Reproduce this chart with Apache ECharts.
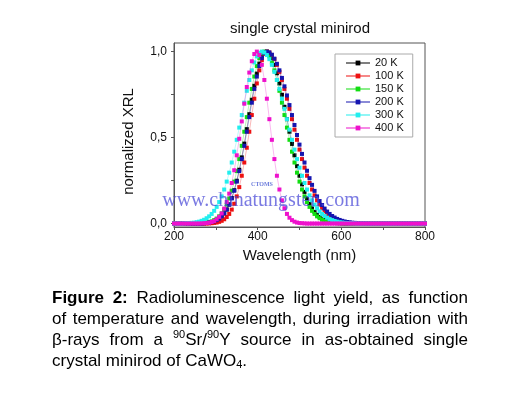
<!DOCTYPE html>
<html>
<head>
<meta charset="utf-8">
<script src="https://cdn.jsdelivr.net/npm/echarts@6/dist/echarts.min.js"></script>
<style>
  html, body { margin: 0; padding: 0; background: #fff; }
  #chart { width: 530px; height: 396px; }
</style>
</head>
<body>
<div id="chart"></div>
<script>
// wavelength grid (nm)
const wavelengths = [
  200, 206, 212, 218, 224, 230, 236, 242, 248, 254,
  260, 266, 272, 278, 284, 290, 296, 302, 308, 314,
  320, 326, 332, 338, 344, 350, 356, 362, 368, 374,
  380, 386, 392, 398, 404, 410, 416, 422, 428, 434,
  440, 446, 452, 458, 464, 470, 476, 482, 488, 494,
  500, 506, 512, 518, 524, 530, 536, 542, 548, 554,
  560, 566, 572, 578, 584, 590, 596, 602, 608, 614,
  620, 626, 632, 638, 644, 650, 656, 662, 668, 674,
  680, 686, 692, 698, 704, 710, 716, 722, 728, 734,
  740, 746, 752, 758, 764, 770, 776, 782, 788, 794,
  800
];

const temperatures = ['20 K', '100 K', '150 K', '200 K', '300 K', '400 K'];

// normalized XRL
const xrl20K = [
  0, 0, 0, 0, 0, 0, 0, 0, 0, 0,
  0.001, 0.001, 0.002, 0.003, 0.005, 0.008, 0.013, 0.019, 0.029, 0.041,
  0.059, 0.082, 0.111, 0.149, 0.194, 0.249, 0.313, 0.385, 0.465, 0.549,
  0.636, 0.720, 0.801, 0.872, 0.930, 0.972, 0.996, 1.000, 0.987, 0.962,
  0.923, 0.874, 0.815, 0.749, 0.679, 0.607, 0.534, 0.463, 0.397, 0.334,
  0.278, 0.228, 0.184, 0.146, 0.115, 0.089, 0.068, 0.051, 0.038, 0.028,
  0.020, 0.014, 0.010, 0.007, 0.005, 0.003, 0.002, 0.001, 0, 0,
  0, 0, 0, 0, 0, 0, 0, 0, 0, 0,
  0, 0, 0, 0, 0, 0, 0, 0, 0, 0,
  0, 0, 0, 0, 0, 0, 0, 0, 0, 0,
  0
];
const xrl100K = [
  0, 0, 0, 0, 0, 0, 0, 0, 0, 0,
  0, 0, 0, 0, 0.001, 0.002, 0.004, 0.006, 0.010, 0.016,
  0.025, 0.038, 0.056, 0.081, 0.115, 0.158, 0.212, 0.278, 0.355, 0.441,
  0.534, 0.631, 0.726, 0.815, 0.891, 0.950, 0.987, 1.000, 0.995, 0.980,
  0.956, 0.923, 0.882, 0.835, 0.783, 0.726, 0.667, 0.607, 0.546, 0.487,
  0.430, 0.375, 0.325, 0.278, 0.236, 0.198, 0.164, 0.135, 0.110, 0.089,
  0.071, 0.056, 0.044, 0.034, 0.026, 0.020, 0.015, 0.011, 0.008, 0.006,
  0.004, 0.003, 0.002, 0.002, 0.001, 0, 0, 0, 0, 0,
  0, 0, 0, 0, 0, 0, 0, 0, 0, 0,
  0, 0, 0, 0, 0, 0, 0, 0, 0, 0,
  0
];
const xrl150K = [
  0, 0, 0, 0, 0, 0, 0, 0, 0, 0,
  0.001, 0.002, 0.004, 0.006, 0.009, 0.013, 0.020, 0.029, 0.042, 0.059,
  0.081, 0.110, 0.146, 0.191, 0.244, 0.305, 0.375, 0.452, 0.534, 0.619,
  0.703, 0.783, 0.855, 0.916, 0.962, 0.990, 1.000, 0.993, 0.972, 0.937,
  0.891, 0.835, 0.772, 0.703, 0.631, 0.558, 0.487, 0.418, 0.355, 0.296,
  0.244, 0.198, 0.158, 0.125, 0.097, 0.074, 0.056, 0.042, 0.031, 0.022,
  0.016, 0.011, 0.008, 0.005, 0.004, 0.002, 0.002, 0.001, 0, 0,
  0, 0, 0, 0, 0, 0, 0, 0, 0, 0,
  0, 0, 0, 0, 0, 0, 0, 0, 0, 0,
  0, 0, 0, 0, 0, 0, 0, 0, 0, 0,
  0
];
const xrl200K = [
  0, 0, 0, 0, 0, 0, 0, 0, 0, 0,
  0, 0.001, 0.002, 0.004, 0.006, 0.009, 0.013, 0.020, 0.029, 0.042,
  0.059, 0.081, 0.110, 0.146, 0.191, 0.244, 0.305, 0.375, 0.452, 0.534,
  0.619, 0.703, 0.783, 0.855, 0.916, 0.962, 0.990, 1.000, 0.995, 0.982,
  0.959, 0.929, 0.891, 0.847, 0.798, 0.745, 0.689, 0.631, 0.573, 0.515,
  0.459, 0.405, 0.355, 0.307, 0.264, 0.225, 0.190, 0.158, 0.131, 0.108,
  0.087, 0.070, 0.056, 0.044, 0.035, 0.027, 0.021, 0.016, 0.012, 0.009,
  0.007, 0.005, 0.004, 0.003, 0.002, 0.001, 0.001, 0, 0, 0,
  0, 0, 0, 0, 0, 0, 0, 0, 0, 0,
  0, 0, 0, 0, 0, 0, 0, 0, 0, 0,
  0
];
const xrl300K = [
  0, 0, 0, 0, 0.001, 0.002, 0.002, 0.004, 0.005, 0.008,
  0.011, 0.016, 0.022, 0.031, 0.042, 0.056, 0.074, 0.097, 0.125, 0.158,
  0.198, 0.244, 0.296, 0.355, 0.418, 0.487, 0.558, 0.631, 0.703, 0.772,
  0.835, 0.891, 0.937, 0.972, 0.993, 1.000, 0.995, 0.980, 0.956, 0.923,
  0.882, 0.835, 0.783, 0.726, 0.667, 0.607, 0.546, 0.487, 0.430, 0.375,
  0.325, 0.278, 0.236, 0.198, 0.164, 0.135, 0.110, 0.089, 0.071, 0.056,
  0.044, 0.034, 0.026, 0.020, 0.015, 0.011, 0.008, 0.006, 0.004, 0.003,
  0.002, 0.002, 0.001, 0, 0, 0, 0, 0, 0, 0,
  0, 0, 0, 0, 0, 0, 0, 0, 0, 0,
  0, 0, 0, 0, 0, 0, 0, 0, 0, 0,
  0
];
const xrl400K = [
  0, 0, 0, 0, 0, 0, 0, 0, 0, 0,
  0, 0.001, 0.002, 0.003, 0.005, 0.009, 0.015, 0.025, 0.039, 0.059,
  0.087, 0.125, 0.174, 0.236, 0.310, 0.397, 0.493, 0.594, 0.697, 0.794,
  0.878, 0.944, 0.986, 1.000, 0.980, 0.923, 0.835, 0.726, 0.607, 0.487,
  0.375, 0.278, 0.198, 0.135, 0.089, 0.056, 0.034, 0.020, 0.011, 0.006,
  0.003, 0.002, 0.001, 0, 0, 0, 0, 0, 0, 0,
  0, 0, 0, 0, 0, 0, 0, 0, 0, 0,
  0, 0, 0, 0, 0, 0, 0, 0, 0, 0,
  0, 0, 0, 0, 0, 0, 0, 0, 0, 0,
  0, 0, 0, 0, 0, 0, 0, 0, 0, 0,
  0
];

const xTicks = [200, 400, 600, 800];
const yTicks = [0, 0.5, 1.0];
const yMinorTicks = [0, 0.25, 0.5, 0.75, 1.0];

const allSeries = [xrl20K, xrl100K, xrl150K, xrl200K, xrl300K, xrl400K];
const colors = ['#000000', '#ee1111', '#11dd11', '#1515b0', '#22eeee', '#ee11cc'];

// caption: words, pieces may be bold / sup / sub
const captionLines = [
  [[['Figure', 'bold']], [['2:', 'bold']], 'Radioluminescence', 'light', 'yield,', 'as', 'function'],
  ['of', 'temperature', 'and', 'wavelength,', 'during', 'irradiation', 'with'],
  ['β-rays', 'from', 'a', [['90', 'sup'], 'Sr/', ['90', 'sup'], 'Y'], 'source', 'in', 'as-obtained', 'single'],
  ['crystal', 'minirod', 'of', ['CaWO', ['4', 'sub'], '.']]
];

const capFamily = '"Liberation Sans", Arial, sans-serif';
const capSize = 17;
const capLeft = 52, capRight = 468, capTop = 298, capLineHeight = 21;

function fontFor(kind) {
  const size = (kind === 'sup' || kind === 'sub') ? 11 : capSize;
  return (kind === 'bold' ? 'bold ' : '') + size + 'px ' + capFamily;
}
function toPieces(word) {
  return (typeof word === 'string' ? [word] : word)
    .map(p => typeof p === 'string' ? [p, 'normal'] : p);
}

const measure = document.createElement('canvas').getContext('2d');
const captionGraphics = [];
captionLines.forEach((line, li) => {
  const words = line.map(toPieces);
  const widths = words.map(ps => ps.reduce((s, p) => {
    measure.font = fontFor(p[1]);
    return s + measure.measureText(p[0]).width;
  }, 0));
  const total = widths.reduce((a, b) => a + b, 0);
  measure.font = fontFor('normal');
  const isLast = li === captionLines.length - 1;
  const gap = isLast ? measure.measureText(' ').width : (capRight - capLeft - total) / (words.length - 1);
  const y = capTop + li * capLineHeight;
  let x = capLeft;
  words.forEach(ps => {
    ps.forEach(p => {
      const kind = p[1];
      const dy = kind === 'sup' ? -5 : kind === 'sub' ? 4 : 0;
      captionGraphics.push({
        type: 'text', x: x, y: y + dy,
        style: { text: p[0], font: fontFor(kind), fill: '#000', verticalAlign: 'middle' }
      });
      measure.font = fontFor(kind);
      x += measure.measureText(p[0]).width;
    });
    x += gap;
  });
});

const chart = echarts.init(document.getElementById('chart'));

const option = {
  animation: false,
  backgroundColor: '#fff',
  textStyle: { fontFamily: capFamily },
  title: {
    text: 'single crystal minirod',
    left: 230,
    top: 21,
    padding: 0,
    textStyle: { fontSize: 15, fontWeight: 'normal', color: '#111' }
  },
  legend: {
    orient: 'vertical',
    left: 335,
    top: 54,
    padding: [3, 9, 3, 10],
    itemWidth: 24,
    itemHeight: 6,
    itemGap: 1,
    borderColor: '#aaa',
    borderWidth: 1,
    textStyle: { fontSize: 11, color: '#111', lineHeight: 12 },
    data: temperatures
  },
  grid: {
    left: 174,
    right: 105,
    top: 43,
    bottom: 169,
    show: true,
    borderColor: '#555',
    borderWidth: 1
  },
  xAxis: {
    type: 'value',
    min: 200,
    max: 800,
    interval: 200,
    name: 'Wavelength (nm)',
    nameLocation: 'middle',
    nameGap: 21,
    nameTextStyle: { fontSize: 15, color: '#111' },
    axisLine: { onZero: false, lineStyle: { color: '#555' } },
    axisTick: { show: true, inside: false, length: 3, lineStyle: { color: '#555' } },
    minorTick: { show: true, splitNumber: 2, length: 3, lineStyle: { color: '#555' } },
    axisLabel: {
      fontSize: 12, color: '#111', margin: 4,
      customValues: xTicks
    },
    splitLine: { show: false }
  },
  yAxis: {
    type: 'value',
    min: -0.02,
    max: 1.05,
    name: 'normalized XRL',
    nameLocation: 'middle',
    nameRotate: 90,
    nameGap: 38,
    nameTextStyle: { fontSize: 15, color: '#111', padding: [0, 13, 0, 0] },
    axisLine: { show: true, lineStyle: { color: '#555' } },
    axisTick: { show: true, inside: false, length: 3, customValues: yMinorTicks, lineStyle: { color: '#555' } },
    axisLabel: {
      fontSize: 12, color: '#111', margin: 7,
      customValues: yTicks,
      formatter: v => v.toFixed(1).replace('.', ',')
    },
    splitLine: { show: false }
  },
  graphic: [
    {
      type: 'text', x: 261, y: 201, z: 100,
      style: {
        text: 'www.chinatungsten.com',
        font: '20px "Liberation Serif", "Times New Roman", serif',
        fill: 'rgba(70, 70, 215, 0.72)',
        align: 'center', verticalAlign: 'middle'
      }
    },
    {
      type: 'text', x: 262, y: 184, z: 100,
      style: {
        text: 'CTOMS',
        font: 'bold 6px "Liberation Serif", serif',
        fill: 'rgba(70, 90, 210, 0.8)',
        align: 'center', verticalAlign: 'middle'
      }
    }
  ].concat(captionGraphics),
  series: allSeries.map((values, i) => ({
    name: temperatures[i],
    type: 'line',
    data: wavelengths.map((w, j) => [w, values[j]]),
    symbol: 'rect',
    symbolSize: 4,
    showAllSymbol: true,
    color: colors[i],
    lineStyle: { width: 0.6, opacity: 0.5, color: colors[i] },
    itemStyle: { color: colors[i] },
    z: 2 + i
  }))
};

chart.setOption(option);
</script>
</body>
</html>
